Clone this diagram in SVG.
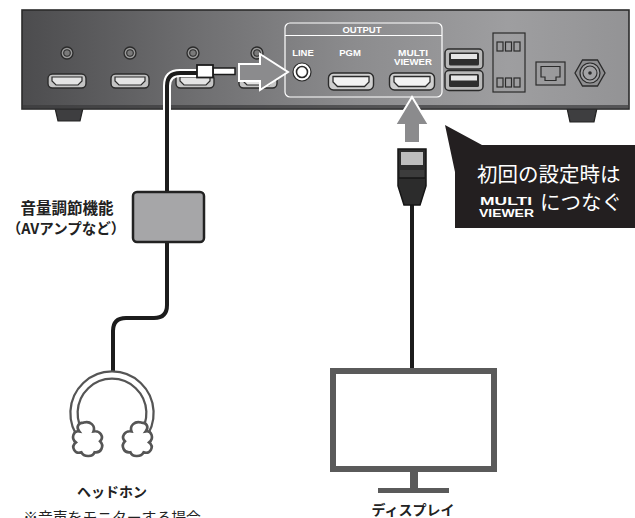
<svg xmlns="http://www.w3.org/2000/svg" xmlns:xlink="http://www.w3.org/1999/xlink" width="635" height="518" viewBox="0 0 635 518">
  <defs>
    <linearGradient id="panelShade" x1="22" y1="0" x2="629" y2="0" gradientUnits="userSpaceOnUse">
      <stop offset="0" stop-color="#4c4c4e"/>
      <stop offset="0.3" stop-color="#707072"/>
      <stop offset="0.55" stop-color="#8c8c8e"/>
      <stop offset="0.8" stop-color="#9e9ea0"/>
      <stop offset="1" stop-color="#939395"/>
    </linearGradient>
    <!-- small HDMI input port, centred on 0,0 -->
    <g id="hdmiS">
      <rect x="-19" y="-7" width="38" height="14" rx="4.5" fill="#c4c4c4" stroke="#2b2b2b" stroke-width="1.4"/>
      <path d="M-15,-4 H15 V0 L11,4 H-11 L-15,0 Z" fill="#e4e4e4" stroke="#2b2b2b" stroke-width="1.2"/>
    </g>
    <!-- larger HDMI output port -->
    <g id="hdmiL">
      <rect x="-22.5" y="-8.5" width="45" height="17" rx="5" fill="#d0d0d0" stroke="#2b2b2b" stroke-width="1.4"/>
      <path d="M-18,-5 H18 V0.5 L13.5,5 H-13.5 L-18,0.5 Z" fill="#f2f2f2" stroke="#2b2b2b" stroke-width="1.3"/>
    </g>
    <g id="jack">
      <circle r="6" fill="#9a9a9a" stroke="#2b2b2b" stroke-width="1.3"/>
      <circle r="3.3" fill="#7a7a7a" stroke="#2b2b2b" stroke-width="1.1"/>
    </g>
    <g id="usb">
      <rect x="-19" y="-10" width="38" height="20" rx="4" fill="#b8b8b8" stroke="#2b2b2b" stroke-width="1.5"/>
      <rect x="-15" y="-6.5" width="30" height="13" rx="1.5" fill="#2e2e2e"/>
      <rect x="-13" y="-5" width="26" height="5" fill="#e6e6e6"/>
    </g>
    <path id="cup" d="M-4,-14 C2,-16 7,-11 5,-6 C11,-7 15,-1 11,3 C15,7 12,14 6,13 C4,18 -4,17 -6,13 C-12,15 -16,8 -11,4 C-16,0 -13,-7 -8,-6 C-11,-10 -9,-14 -4,-14 Z"/>
  </defs>
  <style>
    .jp { font-family: "Noto Sans CJK JP", "Noto Sans", sans-serif; }
    .lbl { font-family: "Noto Sans CJK JP", sans-serif; font-weight: 700; fill: #222; }
    .plate { font-family: "Liberation Sans", Arial, sans-serif; font-weight: 700; fill: #fff; font-size: 9.5px; text-anchor: middle; }
    .dark { stroke: #2b2b2b; fill: none; stroke-width: 1.2; }
    .arrow { fill: #8b8b8d; stroke: #fff; stroke-width: 2; stroke-linejoin: miter; }
    .cable { fill: none; stroke: #1c1c1c; stroke-width: 4; }
    .halo { fill: none; stroke: #fff; stroke-width: 8; }
    .phone { fill: none; stroke: #555; }
  </style>

  <!-- rear panel of the switcher -->
  <g id="device">
    <polygon points="55,108 83,108 80,121 58,121" fill="#3e3e40" stroke="#222" stroke-width="1.2"/>
    <polygon points="567,108 597,108 594,122 570,122" fill="#3e3e40" stroke="#222" stroke-width="1.2"/>
    <rect x="22" y="10" width="607" height="99" fill="url(#panelShade)" stroke="#2b2b2b" stroke-width="1.6"/>
    <rect x="23" y="105" width="605" height="3.5" fill="#3a3a3c" opacity="0.7"/>
    <use href="#jack" x="67" y="53"/>
    <use href="#jack" x="130" y="53"/>
    <use href="#jack" x="193" y="53"/>
    <use href="#jack" x="257" y="53"/>
    <use href="#hdmiS" x="67" y="81"/>
    <use href="#hdmiS" x="130" y="81"/>
    <use href="#hdmiS" x="195" y="81"/>
    <use href="#hdmiS" x="258" y="81"/>
    <use href="#usb" x="464" y="59"/>
    <use href="#usb" x="464" y="80.5"/>
    <g id="dip-switch">
      <rect class="dark" x="493" y="33" width="32" height="59"/>
      <rect class="dark" x="497" y="42" width="6" height="9"/>
      <rect class="dark" x="505.5" y="42" width="6" height="9"/>
      <rect class="dark" x="514" y="42" width="6" height="9"/>
      <rect class="dark" x="497" y="78" width="6" height="9"/>
      <rect class="dark" x="505.5" y="78" width="6" height="9"/>
      <rect class="dark" x="514" y="78" width="6" height="9"/>
    </g>
    <g id="lan-port">
      <rect class="dark" x="536" y="62" width="29" height="23"/>
      <path class="dark" d="M541,66.5 H560 V77 H556 V80.5 H545 V77 H541 Z"/>
    </g>
    <g id="power-in">
      <polygon points="575,73 582.5,60 597.5,60 605,73 597.5,86 582.5,86" fill="#8e8e90" stroke="#2b2b2b" stroke-width="1.3"/>
      <circle cx="590" cy="73" r="10" fill="#a2a2a4" stroke="#2b2b2b" stroke-width="1.2"/>
      <circle cx="590" cy="73" r="7" fill="none" stroke="#2b2b2b" stroke-width="1.1"/>
      <circle cx="590" cy="73" r="1.8" fill="#2b2b2b"/>
    </g>
  </g>

  <!-- OUTPUT block -->
  <g id="output-panel">
    <rect x="285" y="23" width="157" height="74" rx="5" fill="none" stroke="#fff" stroke-width="1.2"/>
    <line x1="285" y1="35.5" x2="442" y2="35.5" stroke="#fff" stroke-width="1"/>
    <text class="plate" x="362" y="33" font-size="10">OUTPUT</text>
    <text class="plate" x="303" y="56" font-size="8.5">LINE</text>
    <text class="plate" x="350" y="56">PGM</text>
    <text class="plate" font-size="8.5"><tspan x="413" y="56" textLength="30" lengthAdjust="spacingAndGlyphs">MULTI</tspan><tspan x="413" y="65" textLength="38" lengthAdjust="spacingAndGlyphs">VIEWER</tspan></text>
    <circle cx="302" cy="72" r="9" fill="#fff" stroke="#2b2b2b" stroke-width="1.2"/>
    <circle cx="302" cy="72" r="5.5" fill="#fff" stroke="#2b2b2b" stroke-width="1.6"/>
    <use href="#hdmiL" x="351" y="81.5"/>
    <use href="#hdmiL" x="412" y="81.5"/>
  </g>

  <!-- cables -->
  <g id="connectors">
    <path class="halo" d="M199,73 H180 Q167,73 167,86 V192"/>
    <path class="cable" d="M199,73 H180 Q167,73 167,86 V192"/>
    <path class="cable" d="M167,242 V305 Q167,318 154,318 H126 Q113,318 113,331 V372"/>
    <path class="cable" d="M412,205 V369"/>
    <polygon class="arrow" points="239,64 260,64 260,54 288,72 260,90 260,81 239,81"/>
    <polygon class="arrow" points="404,143 404,125 395,125 412,97 429,125 420,125 420,143"/>
  </g>

  <g id="audio-plug">
    <rect x="213" y="68" width="22" height="6.5" fill="#fff" stroke="#1c1c1c" stroke-width="1.5"/>
    <rect x="197" y="65" width="16" height="12.5" fill="#fff" stroke="#1c1c1c" stroke-width="1.8"/>
  </g>

  <g id="hdmi-plug">
    <path d="M398,149 H426 V186 L420,205 H404 L398,186 Z" fill="#2c2c2c" stroke="#151515" stroke-width="1.5"/>
    <rect x="401" y="152" width="22" height="13" fill="#bdbdbd"/>
    <rect x="400" y="170" width="24" height="8" fill="#3c3c3c"/>
    <line x1="399" y1="178" x2="425" y2="178" stroke="#151515" stroke-width="1.5"/>
  </g>

  <!-- volume control box -->
  <g id="volume-box">
    <rect x="133" y="192" width="71" height="50" rx="4" fill="#a6a6a8" stroke="#222" stroke-width="2.5"/>
    <text class="lbl" x="67" y="214" font-size="15.5" text-anchor="middle">音量調節機能</text>
    <text class="lbl" x="66" y="234" font-size="14.5" text-anchor="middle">（AVアンプなど）</text>
  </g>

  <!-- headphones -->
  <g id="headphones">
    <path class="phone" stroke-width="9.5" d="M83.3,438 A38,38 0 1 1 140.7,438"/>
    <path fill="none" stroke="#fff" stroke-width="5" d="M83.3,438 A38,38 0 1 1 140.7,438"/>
    <use href="#cup" transform="translate(88,438) scale(1.1)" fill="#fff" stroke="#555" stroke-width="2.4"/>
    <use href="#cup" transform="translate(137,438) scale(-1.1,1.1)" fill="#fff" stroke="#555" stroke-width="2.4"/>
    <text class="lbl" x="112" y="497" font-size="14" text-anchor="middle">ヘッドホン</text>
    <text class="jp" x="112" y="522.5" font-size="14.8" text-anchor="middle" fill="#222">※音声をモニターする場合</text>
  </g>

  <!-- display -->
  <g id="display">
    <rect x="333" y="371" width="161" height="98" fill="#fff" stroke="#5a5a5a" stroke-width="6"/>
    <rect x="410" y="472" width="8" height="17" fill="#5a5a5a"/>
    <rect x="378" y="488" width="71" height="5" fill="#5a5a5a"/>
    <text class="lbl" x="413" y="515" font-size="14" text-anchor="middle">ディスプレイ</text>
  </g>

  <!-- first-time setup note -->
  <g id="callout">
    <path d="M445,125 L482,145 H635 V228 H455 V172 Z" fill="#231f20"/>
    <text class="jp" x="477" y="182" font-size="20.5" fill="#fff">初回の設定時は</text>
    <text font-size="11.5" font-weight="700" fill="#fff" font-family="'Liberation Sans', Arial, sans-serif"><tspan x="480" y="204.5" textLength="52" lengthAdjust="spacingAndGlyphs">MULTI</tspan><tspan x="479" y="216.5" textLength="55" lengthAdjust="spacingAndGlyphs">VIEWER</tspan></text>
    <text class="jp" x="540" y="210" font-size="20.5" fill="#fff">につなぐ</text>
  </g>
</svg>
